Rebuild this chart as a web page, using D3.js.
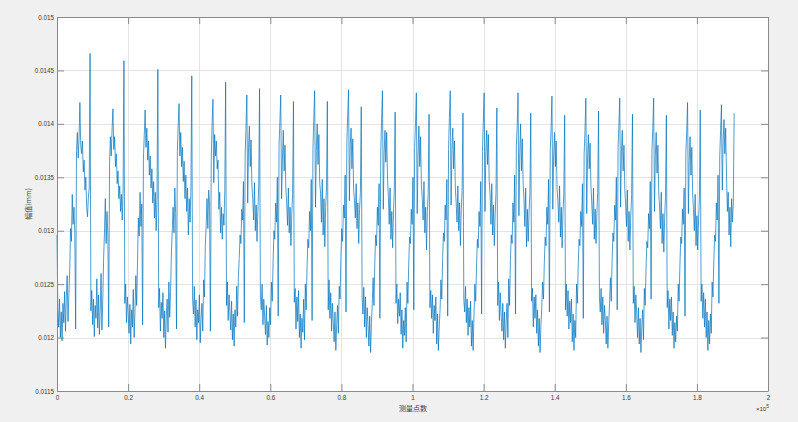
<!DOCTYPE html>
<html><head><meta charset="utf-8">
<script src="https://cdn.jsdelivr.net/npm/d3@7"></script>
<style>html,body{margin:0;padding:0;background:#f0f0f0;} svg{display:block;}</style>
</head><body><svg id="chart" width="798" height="422"></svg>
<script>
// measurement points between stored samples
const sampleStep = 238.4;
// values in units of 1e-5 mm, one array per cycle
const c0 = [1296,1228,1210,1236,1200,1224,1197,1232,1214,1243,1206,1238,1258,1215,1240,1262,1302,1290,1334,1306,1322,1298,1208,1375,1392,1368,1386,1420,1380,1372,1384,1355,1366,1338,1350,1322,1313,1331,1340,1466];
const c1 = [1225,1244,1212,1236,1201,1230,1218,1255,1209,1240,1203,1226,1260,1207,1235,1274,1298,1330,1288,1318,1296,1210,1362,1388,1370,1395,1414,1376,1388,1360,1372,1344,1356,1330,1342,1318,1334,1310,1338,1459];
const c2 = [1232,1250,1214,1238,1222,1204,1231,1194,1226,1210,1245,1200,1224,1258,1230,1270,1312,1295,1336,1304,1325,1212,1368,1390,1413,1378,1396,1366,1384,1352,1370,1340,1358,1326,1346,1312,1336,1300,1332,1451];
const c3 = [1228,1246,1206,1233,1218,1242,1200,1225,1190,1221,1236,1205,1252,1219,1243,1280,1300,1322,1298,1340,1316,1208,1374,1398,1419,1370,1392,1360,1378,1346,1365,1330,1352,1318,1340,1296,1330,1308,1338,1445];
const c4 = [1236,1222,1248,1210,1235,1198,1226,1214,1240,1195,1218,1232,1206,1254,1238,1286,1305,1330,1302,1338,1325,1206,1366,1400,1423,1345,1390,1370,1384,1358,1366,1320,1336,1298,1322,1292,1316,1305,1338,1439];
const c5 = [1230,1252,1216,1240,1224,1207,1234,1198,1222,1192,1226,1210,1248,1220,1256,1274,1296,1288,1320,1310,1346,1214,1372,1396,1427,1326,1378,1398,1360,1385,1342,1330,1310,1345,1300,1324,1290,1318,1340,1433];
const c6 = [1240,1226,1250,1212,1236,1220,1203,1230,1193,1215,1200,1228,1212,1252,1234,1272,1300,1292,1326,1308,1350,1220,1380,1402,1427,1330,1368,1394,1356,1380,1340,1326,1305,1340,1298,1322,1286,1315,1334,1421];
const c7 = [1233,1246,1208,1238,1215,1244,1200,1222,1190,1218,1205,1236,1198,1250,1226,1265,1292,1284,1318,1300,1348,1216,1376,1405,1431,1322,1375,1400,1362,1390,1345,1335,1308,1348,1296,1330,1285,1322,1340,1421];
const c8 = [1226,1254,1218,1242,1206,1232,1214,1196,1224,1188,1212,1230,1204,1248,1236,1276,1302,1290,1324,1312,1352,1224,1382,1408,1432,1328,1380,1396,1358,1386,1338,1328,1312,1344,1302,1326,1288,1320,1336,1416];
const c9 = [1238,1222,1247,1210,1238,1200,1228,1212,1192,1220,1186,1214,1232,1256,1230,1270,1296,1286,1322,1305,1344,1218,1374,1404,1431,1320,1372,1394,1364,1392,1348,1332,1306,1340,1292,1318,1284,1316,1338,1411];
const c10 = [1232,1250,1213,1236,1220,1242,1203,1226,1190,1216,1202,1228,1196,1252,1232,1268,1294,1288,1320,1306,1350,1226,1378,1400,1429,1316,1370,1398,1360,1388,1342,1330,1310,1346,1298,1322,1282,1318,1335,1409];
const c11 = [1228,1244,1218,1240,1204,1230,1216,1238,1194,1222,1188,1210,1226,1254,1236,1274,1298,1290,1324,1310,1348,1220,1376,1406,1431,1324,1376,1396,1358,1384,1340,1326,1308,1342,1300,1326,1286,1320,1338,1410];
const c12 = [1236,1224,1248,1214,1236,1202,1228,1210,1234,1192,1216,1188,1220,1250,1234,1266,1292,1284,1318,1304,1346,1222,1374,1402,1429,1318,1374,1394,1362,1390,1346,1334,1306,1344,1296,1324,1286,1316,1336,1415];
const c13 = [1230,1252,1216,1242,1222,1206,1232,1198,1224,1190,1214,1232,1200,1255,1230,1272,1296,1288,1326,1308,1352,1222,1380,1398,1429,1314,1372,1400,1356,1386,1344,1330,1304,1340,1285,1320,1290,1318,1335,1410];
const c14 = [1234,1246,1210,1238,1218,1240,1204,1226,1192,1218,1186,1212,1228,1252,1236,1270,1294,1286,1322,1306,1348,1224,1376,1396,1426,1320,1370,1392,1360,1384,1340,1328,1308,1342,1294,1322,1284,1318,1334,1408];
const c15 = [1226,1250,1220,1244,1208,1234,1214,1236,1196,1222,1188,1216,1200,1250,1232,1268,1292,1286,1318,1304,1344,1218,1372,1394,1424,1316,1368,1390,1358,1382,1342,1326,1306,1340,1292,1320,1288,1316,1336,1412];
const c16 = [1238,1224,1246,1212,1238,1204,1230,1216,1194,1220,1190,1214,1232,1256,1234,1272,1298,1290,1324,1310,1350,1226,1378,1398,1424,1322,1374,1394,1356,1380,1338,1324,1304,1338,1290,1318,1282,1314,1334,1409];
const c17 = [1232,1248,1214,1240,1222,1200,1228,1194,1218,1186,1210,1226,1198,1246,1230,1264,1290,1284,1316,1302,1346,1236,1374,1396,1424,1318,1370,1392,1354,1380,1336,1322,1302,1336,1288,1316,1280,1312,1332,1408];
const c18 = [1228,1244,1208,1236,1216,1238,1202,1224,1190,1214,1196,1220,1206,1250,1234,1268,1294,1288,1320,1306,1340,1220,1372,1392,1420,1316,1366,1388,1352,1378,1334,1320,1300,1334,1286,1314,1282,1310,1330,1413];
const c19 = [1234,1250,1218,1242,1210,1236,1200,1224,1188,1216,1194,1222,1204,1252,1238,1272,1296,1290,1326,1310,1352,1232,1370,1394,1418,1338,1384,1404,1372,1396,1350,1318,1336,1296,1322,1285,1330,1308,1326,1410];

const xTicks = [0,20000,40000,60000,80000,100000,120000,140000,160000,180000,200000];
const xTickLabels = ["0","0.2","0.4","0.6","0.8","1","1.2","1.4","1.6","1.8","2"];
const yTicks = [0.0115,0.012,0.0125,0.013,0.0135,0.014,0.0145,0.015];
const yTickLabels = ["0.0115","0.012","0.0125","0.013","0.0135","0.014","0.0145","0.015"];
const xLabel = "测量点数";
const yLabel = "幅值(mm)";

const cycles = [c0,c1,c2,c3,c4,c5,c6,c7,c8,c9,c10,c11,c12,c13,c14,c15,c16,c17,c18,c19];
const values = cycles.flat().map(v => v / 1e5);
const data = values.map((v, i) => ({x: i * sampleStep, y: v}));

const svg = d3.select("#chart");
const L = 57, R = 768, T = 17, B = 391;
const x = d3.scaleLinear().domain([0, 200000]).range([L, R]);
const y = d3.scaleLinear().domain([0.0115, 0.015]).range([B, T]);

svg.append("rect").attr("width", 798).attr("height", 422).attr("fill", "#f0f0f0");
svg.append("rect").attr("x", L + 0.5).attr("y", T + 0.5).attr("width", R - L).attr("height", B - T).attr("fill", "#ffffff");

const grid = svg.append("g").attr("stroke", "#e4e4e4").attr("stroke-width", 1);
xTicks.slice(1, -1).forEach(t => {
  const px = Math.round(x(t)) + 0.5;
  grid.append("line").attr("x1", px).attr("x2", px).attr("y1", T).attr("y2", B);
});
yTicks.slice(1, -1).forEach(t => {
  const py = Math.round(y(t)) + 0.5;
  grid.append("line").attr("x1", L).attr("x2", R).attr("y1", py).attr("y2", py);
});

const line = d3.line().x(d => x(d.x)).y(d => y(d.y));
svg.append("path").datum(data)
  .attr("d", line)
  .attr("fill", "none")
  .attr("stroke", "#0072BD")
  .attr("stroke-width", 0.7)
  .attr("stroke-linejoin", "round");

const fontNum = "'Liberation Sans', Arial, Helvetica, sans-serif";
function styleAxis(g) {
  g.attr("font-family", fontNum).attr("font-size", 6.3);
  g.select(".domain").attr("stroke", "#8a8a8a");
  g.selectAll(".tick line").attr("stroke", "#8a8a8a");
  g.selectAll(".tick text").attr("fill", "#3a3a3a");
}

svg.append("g").attr("transform", `translate(0,${B})`)
  .call(d3.axisBottom(x).tickValues(xTicks).tickFormat((d, i) => xTickLabels[i]).tickSizeInner(-7).tickSizeOuter(0).tickPadding(5))
  .call(styleAxis);
svg.append("g").attr("transform", `translate(0,${T})`)
  .call(d3.axisTop(x).tickValues(xTicks).tickFormat("").tickSizeInner(-7).tickSizeOuter(0))
  .call(styleAxis);
svg.append("g").attr("transform", `translate(${L},0)`)
  .call(d3.axisLeft(y).tickValues(yTicks).tickFormat((d, i) => yTickLabels[i]).tickSizeInner(-7).tickSizeOuter(0).tickPadding(3))
  .call(styleAxis);
svg.append("g").attr("transform", `translate(${R},0)`)
  .call(d3.axisRight(y).tickValues(yTicks).tickFormat("").tickSizeInner(-7).tickSizeOuter(0))
  .call(styleAxis);

// exponent
const ex = svg.append("text").attr("x", 769).attr("y", 411).attr("text-anchor", "end")
  .attr("font-family", fontNum).attr("font-size", 6).attr("fill", "#3a3a3a");
ex.append("tspan").text("×10");
ex.append("tspan").attr("dy", -3).attr("font-size", 5).text("5");

svg.append("text").attr("x", (L + R) / 2 + 0.5).attr("y", 411).attr("text-anchor", "middle")
  .attr("font-family", "'Noto Sans CJK SC', sans-serif").attr("font-size", 7).attr("fill", "#3a3a3a")
  .text(xLabel);
svg.append("text").attr("transform", `translate(31,${(T + B) / 2}) rotate(-90)`).attr("text-anchor", "middle")
  .attr("font-family", "'Noto Sans CJK SC', sans-serif").attr("font-size", 7).attr("fill", "#3a3a3a")
  .text(yLabel);
</script></body></html>
